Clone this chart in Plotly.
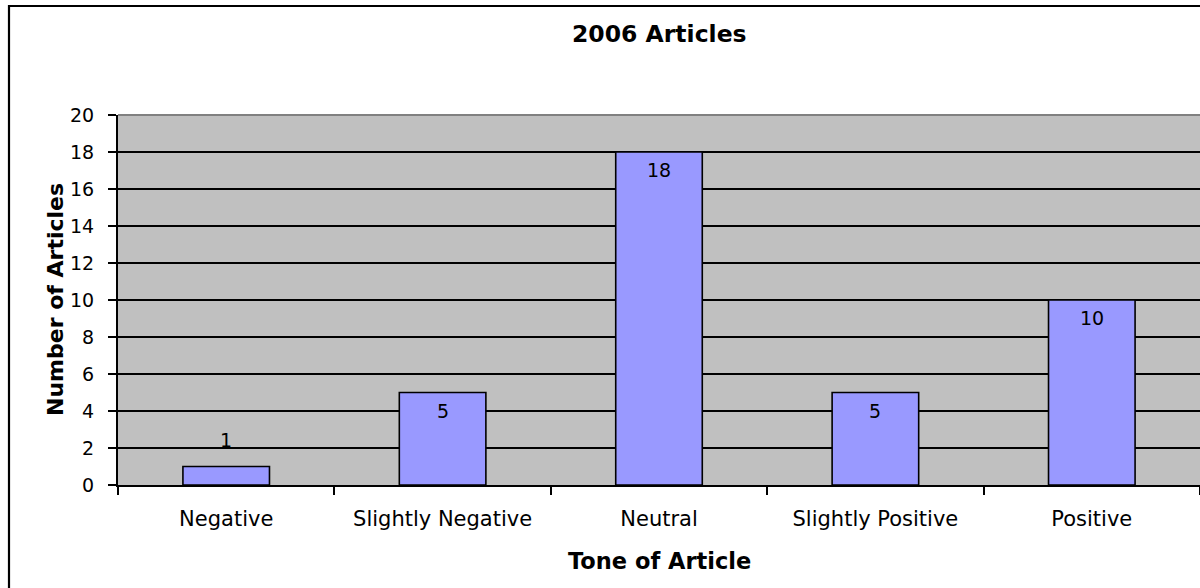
import plotly.graph_objects as go

# Article counts by tone, 2006
tones = ["Negative", "Slightly Negative", "Neutral", "Slightly Positive", "Positive"]
counts = [1, 5, 18, 5, 10]
y_ticks = list(range(0, 21, 2))

FONT = "DejaVu Sans, Arial, sans-serif"
BAR_FILL = "#9999FF"
PLOT_BG = "#C0C0C0"

fig = go.Figure(
    go.Bar(
        x=tones,
        y=counts,
        marker=dict(color=BAR_FILL, line=dict(color="black", width=1.6)),
        hoverinfo="x+y",
    )
)

# Value labels: inside the top of tall bars, above short ones
for tone, n in zip(tones, counts):
    inside = n >= 3
    fig.add_annotation(
        x=tone, y=n, xref="x", yref="y",
        text=str(n), showarrow=False,
        yanchor="top" if inside else "bottom",
        yshift=-5 if inside else 14,
        font=dict(family=FONT, size=19, color="black"),
    )

fig.update_layout(
    width=1200,
    height=588,
    margin=dict(l=118, r=0, t=115, b=103),
    paper_bgcolor="white",
    plot_bgcolor=PLOT_BG,
    bargap=0.6,
    showlegend=False,
    font=dict(family=FONT, color="black"),
    annotations=list(fig.layout.annotations) + [
        dict(text="<b>2006 Articles</b>", xref="paper", yref="paper",
             x=0.5, y=1.22, xanchor="center", yanchor="middle",
             showarrow=False, font=dict(family=FONT, size=23.5, color="black")),
        dict(text="<b>Tone of Article</b>", xref="paper", yref="paper",
             x=0.5, y=-0.205, xanchor="center", yanchor="middle",
             showarrow=False, font=dict(family=FONT, size=22.5, color="black")),
        dict(text="<b>Number of Articles</b>", xref="paper", yref="paper",
             x=0, xshift=-63, y=0.5, xanchor="center", yanchor="middle",
             textangle=-90, showarrow=False,
             font=dict(family=FONT, size=22, color="black")),
    ],
    shapes=[
        # chart frame
        dict(type="rect", xref="paper", yref="paper",
             x0=(9 - 118) / 1082, x1=1.1, y0=-0.6, y1=(485 - 6) / 370,
             line=dict(color="black", width=2.2), fillcolor="rgba(0,0,0,0)",
             layer="above"),
        # plot-area top border
        dict(type="line", xref="paper", yref="paper",
             x0=0, x1=1, y0=1, y1=1,
             line=dict(color="#808080", width=2), layer="above"),
    ],
)

fig.update_xaxes(
    type="category",
    showgrid=False,
    showline=True, linecolor="black", linewidth=2,
    ticks="outside", tickson="boundaries", ticklen=8, tickwidth=1.5, tickcolor="black",
    ticklabelstandoff=14,
    tickfont=dict(family=FONT, size=21, color="black"),
    zeroline=False,
)

fig.update_yaxes(
    range=[0, 20],
    tickvals=y_ticks,
    showgrid=True, gridcolor="black", gridwidth=1.5,
    showline=True, linecolor="black", linewidth=2,
    ticks="outside", ticklen=8, tickwidth=1.5, tickcolor="black",
    ticklabelstandoff=10,
    tickfont=dict(family=FONT, size=19, color="black"),
    zeroline=False,
)

fig.write_html("out.html")
